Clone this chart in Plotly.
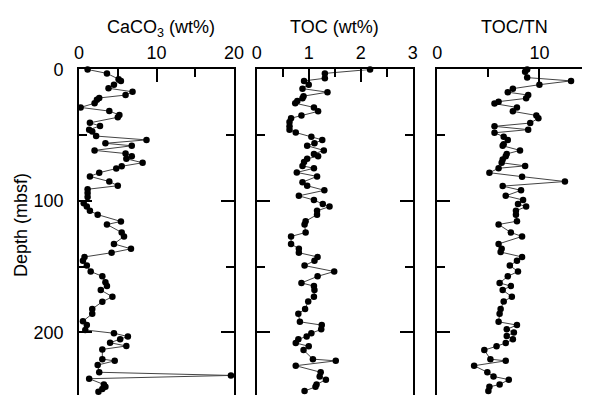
import plotly.graph_objects as go

# ---------------- data ----------------
depth_caco3 = [0, 3, 7.4, 8.7, 11.6, 14.3, 17, 19.5, 21.7, 23, 25.7, 28.9, 31.7, 34.6, 36.4,
               40.6, 43, 45.8, 47.2, 50.7, 53.6, 56.2, 58.1, 61.6, 64, 66, 68, 71, 73.7, 75.4,
               78.6, 81.4, 85.3, 88.5, 91.2, 94, 97, 101.9, 104.4, 107.6, 110.5, 115.7, 118,
               124.1, 127.1, 132.8, 136.5, 139.5, 142.7, 145.6, 149.3, 153.8, 157.5, 162,
               164.9, 167.9, 173, 176.8, 182.3, 186, 191.6, 194.6, 198.3, 200.8, 203.3, 205.3,
               208, 210.5, 213.1, 220.5, 221.8, 225, 230.5, 232.9, 235.4, 239.8, 241.6, 243.3, 245.3]
caco3 = [1.1, 3.6, 5.1, 5.4, 4.5, 3.8, 6.9, 6.0, 2.6, 2.3, 2.0, 0.2, 3.9, 5.2, 5.0,
         1.4, 2.7, 1.3, 1.7, 2.2, 8.7, 3.4, 6.8, 2.0, 6.0, 6.8, 6.1, 8.2, 5.5, 4.8,
         2.6, 1.4, 3.9, 5.0, 1.1, 1.1, 1.1, 0.6, 1.0, 1.4, 2.4, 5.4, 3.6,
         5.5, 5.8, 4.5, 6.7, 4.2, 0.7, 0.5, 1.0, 1.5, 3.0, 3.4,
         3.6, 2.8, 4.3, 3.0, 1.7, 1.7, 0.5, 1.0, 0.8, 4.5, 6.3, 5.3,
         4.0, 6.1, 3.0, 3.0, 4.6, 2.4, 2.6, 19.6, 1.3, 3.2, 3.4, 3.0, 2.5]

depth_toc = [0, 3, 6.7, 8.7, 11.6, 14.6, 17.3, 20.3, 22, 24, 25.7, 28.9, 31.9, 35, 37.1,
             40, 43.3, 45.8, 48, 51.2, 53.6, 56.2, 58.1, 61.6, 64.3, 66, 68, 70.5, 73.4, 75.2,
             78.4, 81.4, 85.8, 88.5, 92, 96.2, 99.4, 102.4, 104.4, 107.6, 110.5, 115.5, 118,
             124.1, 127.1, 132.8, 136.5, 139.5, 142.7, 145.6, 149.3, 153.8, 157.5, 162.5,
             164.9, 167.9, 173, 176.6, 182.3, 186, 192.1, 194.6, 197.8, 200.8, 203.3, 205.3,
             208.2, 210.7, 213.6, 220.5, 221.8, 225.5, 230.5, 233.7, 236.1, 239.8, 241.6, 244.8]
toc = [2.18, 1.31, 1.31, 0.91, 1.0, 0.88, 1.36, 0.9, 0.88, 0.78, 0.74, 1.1, 1.18, 0.86, 0.66,
       0.63, 0.63, 0.63, 0.75, 1.05, 1.26, 1.11, 0.97, 1.29, 1.1, 1.18, 0.97, 0.91, 0.88, 1.1,
       0.77, 1.16, 0.88, 0.97, 1.3, 0.81, 1.1, 1.27, 1.4, 1.16, 1.16, 0.94, 0.92,
       0.94, 0.66, 0.66, 0.81, 0.81, 1.17, 1.11, 0.92, 1.49, 1.17, 0.86,
       1.1, 1.11, 1.1, 0.99, 0.93, 0.8, 0.83, 1.25, 1.24, 1.05, 0.96, 0.8,
       0.75, 1.0, 0.9, 1.08, 1.52, 0.75, 1.23, 1.21, 1.33, 1.15, 1.13, 0.92]

depth_ratio = [0, 1.7, 6.2, 8.7, 11.6, 14.6, 17.3, 19.5, 22, 24.5, 26, 28.9, 31.9, 35, 37.1,
               40.8, 43.3, 45.8, 48.2, 51.2, 53.6, 56.9, 58.1, 61.6, 64.3, 66, 68.5, 71, 73.4, 75.2,
               78.6, 81.6, 85.3, 88.8, 92, 96.2, 99.4, 102.4, 104.4, 107.6, 110.5, 115.5, 118,
               124.1, 127.1, 132.8, 136.5, 139, 142.7, 145.6, 149.3, 153.8, 157.5, 162.5,
               164.9, 167.9, 173, 176.6, 182.3, 186, 192.1, 194.6, 197.8, 200.3, 202.8, 205.3,
               208.2, 210.7, 213.6, 220.5, 221.8, 225.5, 230.5, 233.7, 236.1, 239.8, 241.6, 244.8]
toc_tn = [8.8, 8.6, 8.8, 13.1, 10.0, 7.4, 6.9, 8.9, 8.7, 6.0, 5.6, 7.8, 7.4, 9.7, 9.9,
          9.1, 5.6, 8.9, 5.6, 6.5, 6.9, 6.5, 6.4, 8.1, 6.8, 6.7, 6.4, 6.3, 8.6, 6.0,
          5.1, 8.3, 12.5, 6.4, 8.2, 6.7, 8.4, 7.9, 8.7, 7.7, 7.7, 7.8, 6.0,
          7.2, 8.3, 6.0, 6.3, 6.2, 8.3, 7.8, 7.1, 7.9, 6.9, 6.1,
          7.2, 6.4, 7.3, 6.5, 6.2, 6.1, 6.0, 7.8, 6.8, 7.5, 6.8, 7.4,
          6.7, 5.8, 4.6, 5.2, 6.7, 3.6, 4.9, 5.5, 7.0, 6.1, 5.1, 5.0]

titles = ["CaCO<sub>3</sub> (wt%)", "TOC (wt%)", "TOC/TN"]
depth_title = "Depth (mbsf)"

# ---------------- layout geometry ----------------
W, H = 592, 395
FONT = "Liberation Sans, Arial, Helvetica, sans-serif"
FS = 18
top_px = 61
y_range = [247.8, 0]
ydom = [0, 1 - top_px / H]

fig = go.Figure()
marker = dict(size=6.5, color="black")
line = dict(color="#444444", width=1)
fig.add_trace(go.Scatter(x=caco3, y=depth_caco3, mode="lines+markers", marker=marker,
                         line=line, xaxis="x", yaxis="y", cliponaxis=False, showlegend=False))
fig.add_trace(go.Scatter(x=toc, y=depth_toc, mode="lines+markers", marker=marker,
                         line=line, xaxis="x2", yaxis="y2", cliponaxis=False, showlegend=False))
fig.add_trace(go.Scatter(x=toc_tn, y=depth_ratio, mode="lines+markers", marker=marker,
                         line=line, xaxis="x3", yaxis="y3", cliponaxis=False, showlegend=False))

tickfont = dict(family=FONT, size=FS, color="black")


def xtop(domain, rng, dtick, minor, anchor):
    return dict(domain=domain, range=rng, side="top", anchor=anchor, showline=True,
                linecolor="black", linewidth=2, ticks="inside", ticklen=13, tickwidth=2,
                tickcolor="black", dtick=dtick, tick0=0, showgrid=False, zeroline=False,
                tickfont=tickfont, ticklabelstandoff=1,
                minor=dict(dtick=minor, tick0=0, ticks="inside", ticklen=8, tickwidth=2,
                           tickcolor="black", showgrid=False))


def xbot(over, rng, dtick, minor, anchor):
    return dict(overlaying=over, range=rng, side="bottom", anchor=anchor, showline=False,
                ticks="inside", ticklen=10, tickwidth=2, tickcolor="black", dtick=dtick,
                tick0=0, showgrid=False, zeroline=False, showticklabels=False,
                minor=dict(dtick=minor, tick0=0, ticks="inside", ticklen=5, tickwidth=2,
                           tickcolor="black", showgrid=False))


def yax(anchor, labels, mirror):
    return dict(domain=ydom, range=y_range, anchor=anchor, showline=True, linecolor="black",
                linewidth=2, mirror=mirror, ticks="inside", ticklen=13, tickwidth=2,
                tickcolor="black", dtick=100, tick0=0, showgrid=False, zeroline=False,
                showticklabels=labels, tickfont=tickfont, ticklabelstandoff=10,
                minor=dict(dtick=50, tick0=0, ticks="inside", ticklen=8, tickwidth=2,
                           tickcolor="black", showgrid=False))


dom1 = [76 / W, 235 / W]
dom2 = [258.3 / W, 418.3 / W]
dom3 = [443.6 / W, 1.0]
r1, r2, r3 = [0, 20], [0, 3], [0, (W - 443.6) / 10.47]

fig.update_layout(
    width=W, height=H, autosize=False,
    margin=dict(l=0, r=0, t=0, b=0),
    paper_bgcolor="white", plot_bgcolor="white",
    xaxis=xtop(dom1, r1, 10, 5, "y"),
    xaxis2=xtop(dom2, r2, 1, 0.5, "y2"),
    xaxis3=xtop(dom3, r3, 10, 5, "y3"),
    xaxis4=xbot("x", r1, 10, 5, "y"),
    xaxis5=xbot("x2", r2, 1, 0.5, "y2"),
    xaxis6=xbot("x3", r3, 10, 5, "y3"),
    yaxis=yax("x", True, "ticks"),
    yaxis2=yax("x2", False, "ticks"),
    yaxis3=yax("x3", False, False),
    yaxis4=dict(overlaying="y3", anchor="x3", side="right", range=y_range, showline=False,
                ticks="inside", ticklen=4, tickwidth=2, tickcolor="black", dtick=100, tick0=0,
                showgrid=False, zeroline=False, showticklabels=False),
)

ann_font = dict(family=FONT, size=FS, color="black")
fig.add_annotation(text=titles[0], xref="x", x=10.6, yref="paper", y=1 - 19 / H,
                   showarrow=False, font=ann_font, xanchor="center", yanchor="middle")
fig.add_annotation(text=titles[1], xref="x2", x=1.5, yref="paper", y=1 - 17 / H,
                   showarrow=False, font=ann_font, xanchor="center", yanchor="middle")
fig.add_annotation(text=titles[2], xref="x3", x=7.6, yref="paper", y=1 - 17 / H,
                   showarrow=False, font=ann_font, xanchor="center", yanchor="middle")
fig.add_annotation(text=depth_title, xref="paper", x=17 / W, yref="paper", y=1 - 221 / H,
                   showarrow=False, font=ann_font, textangle=-90,
                   xanchor="center", yanchor="middle")

fig.write_html("out.html")
